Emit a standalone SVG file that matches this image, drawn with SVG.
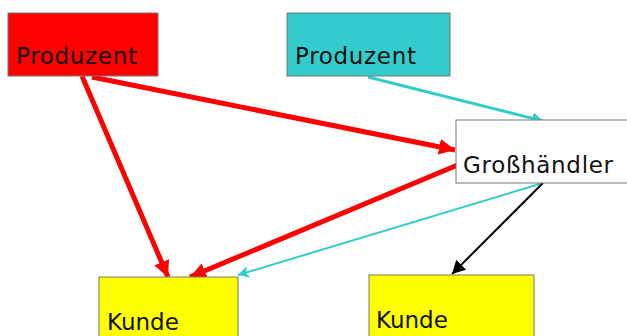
<svg xmlns="http://www.w3.org/2000/svg" width="627" height="336" viewBox="0 0 627 336">
<style>
.box{stroke:#777;stroke-width:1}
.lbl{font-family:"DejaVu Sans",sans-serif;font-size:23px;fill:#111}
.red{stroke:#ff0000;stroke-width:5;fill:none}
.cy{stroke:#33cccc;stroke-width:3;fill:none}
.cyt{stroke:#33cccc;stroke-width:2;fill:none}
.blk{stroke:#000;stroke-width:2;fill:none}
</style>
<defs>
<marker id="mr" markerUnits="userSpaceOnUse" markerWidth="18" markerHeight="16" refX="16" refY="8" orient="auto"><path d="M0,0 L16,8 L0,16 Z" fill="#ff0000"/></marker>
<marker id="mc" markerUnits="userSpaceOnUse" markerWidth="12" markerHeight="12" refX="11" refY="6" orient="auto"><path d="M0,0 L11,6 L0,12 Z" fill="#33cccc"/></marker>
<marker id="mct" markerUnits="userSpaceOnUse" markerWidth="12" markerHeight="12" refX="11" refY="6" orient="auto"><path d="M0,0 L11,6 L0,12 L3,6 Z" fill="#33cccc"/></marker>
<marker id="mb" markerUnits="userSpaceOnUse" markerWidth="14" markerHeight="14" refX="13" refY="7" orient="auto"><path d="M0,0 L13,7 L0,14 Z" fill="#000"/></marker>
</defs>
<g id="connectors">
<line class="red" x1="82" y1="76" x2="168" y2="277" marker-end="url(#mr)"/>
<line class="red" x1="92" y1="77" x2="455" y2="150" marker-end="url(#mr)"/>
<line class="red" x1="460" y1="164" x2="190" y2="277" marker-end="url(#mr)"/>
<line class="cy" x1="368" y1="77" x2="543" y2="121" marker-end="url(#mc)"/>
<line class="cyt" x1="543" y1="183" x2="238" y2="275" marker-end="url(#mct)"/>
<line class="blk" x1="543" y1="183" x2="452" y2="274" marker-end="url(#mb)"/>
</g>
<g id="produzent1"><rect class="box" x="8" y="13" width="150" height="63" fill="#ff0000"/><text class="lbl" x="16" y="64" textLength="121">Produzent</text></g>
<g id="produzent2"><rect class="box" x="287" y="13" width="163" height="63" fill="#33cccc"/><text class="lbl" x="295" y="64" textLength="121">Produzent</text></g>
<g id="grosshaendler"><rect class="box" x="456" y="120" width="180" height="63" fill="#ffffff"/><text class="lbl" x="463" y="173" textLength="150">Großhändler</text></g>
<g id="kunde1"><rect class="box" x="99" y="277" width="139" height="70" fill="#ffff00"/><text class="lbl" x="107" y="330">Kunde</text></g>
<g id="kunde2"><rect class="box" x="369" y="275" width="165" height="70" fill="#ffff00"/><text class="lbl" x="376" y="328">Kunde</text></g>
</svg>
